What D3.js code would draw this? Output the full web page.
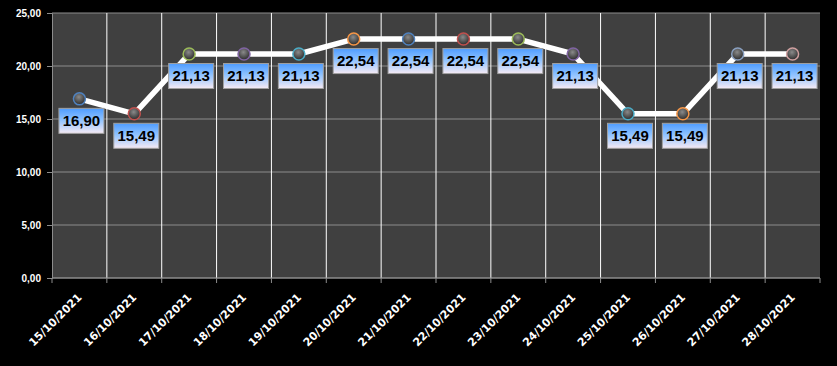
<html>
<head>
<meta charset="utf-8">
<script src="https://cdn.jsdelivr.net/npm/d3@7"></script>
<style>
  body { margin: 0; background: #000; }
</style>
</head>
<body>
<div id="chart"></div>
<script>
// chart data
const dates = ["15/10/2021", "16/10/2021", "17/10/2021", "18/10/2021", "19/10/2021", "20/10/2021", "21/10/2021",
               "22/10/2021", "23/10/2021", "24/10/2021", "25/10/2021", "26/10/2021", "27/10/2021", "28/10/2021"];
const prices = [16.90, 15.49, 21.13, 21.13, 21.13, 22.54, 22.54, 22.54, 22.54, 21.13, 15.49, 15.49, 21.13, 21.13];
const yTicks = [0, 5, 10, 15, 20, 25];
const markerColors = ["#4f81bd", "#c0504d", "#9bbb59", "#8064a2", "#4bacc6", "#f79646", "#4f81bd",
                      "#c0504d", "#9bbb59", "#8064a2", "#4bacc6", "#f79646", "#8aa0c0", "#d0a0a0"];

const W = 837, H = 366;
const m = { left: 52, right: 17, top: 13, bottom: 88 };
const fmt = v => d3.format(".2f")(v).replace(".", ",");

const svg = d3.select("#chart").append("svg")
  .attr("width", W).attr("height", H)
  .style("font-family", "'DejaVu Sans', Verdana, sans-serif");

svg.append("rect").attr("width", W).attr("height", H).attr("fill", "#000");

const x = d3.scaleBand().domain(dates).range([m.left, W - m.right]);
const y = d3.scaleLinear().domain([0, 25]).range([H - m.bottom, m.top]);

const defs = svg.append("defs");
const lg = defs.append("linearGradient").attr("id", "lblGrad").attr("x1", 0).attr("y1", 0).attr("x2", 0).attr("y2", 1);
lg.append("stop").attr("offset", "0%").attr("stop-color", "#4e9cff");
lg.append("stop").attr("offset", "45%").attr("stop-color", "#8ec2ff");
lg.append("stop").attr("offset", "100%").attr("stop-color", "#f6eaf4");
const rg = defs.append("radialGradient").attr("id", "dotGrad").attr("cx", "45%").attr("cy", "35%").attr("r", "65%");
rg.append("stop").attr("offset", "0%").attr("stop-color", "#8a8a8a");
rg.append("stop").attr("offset", "100%").attr("stop-color", "#2a2a2a");

// plot area
svg.append("rect")
  .attr("x", m.left).attr("y", m.top)
  .attr("width", W - m.right - m.left).attr("height", H - m.bottom - m.top)
  .attr("fill", "#404040");

// horizontal grid
svg.append("g").selectAll("line").data(yTicks).join("line")
  .attr("x1", m.left).attr("x2", W - m.right)
  .attr("y1", d => y(d)).attr("y2", d => y(d))
  .attr("stroke", "#8c8c8c").attr("stroke-width", 1);

// vertical grid (band boundaries)
const bounds = dates.map(d => x(d)).concat([W - m.right]);
svg.append("g").selectAll("line").data(bounds.slice(1, -1)).join("line")
  .attr("x1", d => d).attr("x2", d => d)
  .attr("y1", m.top).attr("y2", H - m.bottom)
  .attr("stroke", "#ffffff").attr("stroke-width", 1);

// y axis
const yAxis = svg.append("g")
  .attr("transform", `translate(${m.left},0)`)
  .call(d3.axisLeft(y).tickValues(yTicks).tickFormat(fmt).tickSizeOuter(0).tickSize(5).tickPadding(6));
yAxis.select(".domain").attr("stroke", "#8c8c8c");
yAxis.selectAll(".tick line").attr("stroke", "#8c8c8c");
yAxis.selectAll("text").attr("fill", "#ffffff").attr("font-size", 10).attr("font-weight", "bold");

// x axis ticks at band boundaries
const xg = svg.append("g");
xg.append("line").attr("x1", m.left).attr("x2", W - m.right)
  .attr("y1", y(0)).attr("y2", y(0)).attr("stroke", "#8c8c8c");
xg.selectAll(".xt").data(bounds).join("line")
  .attr("x1", d => d).attr("x2", d => d)
  .attr("y1", y(0)).attr("y2", y(0) + 5).attr("stroke", "#8c8c8c");
xg.selectAll("text").data(dates).join("text")
  .attr("transform", d => `translate(${x(d) + x.bandwidth() / 2 + 3},${y(0) + 20}) rotate(-45)`)
  .attr("text-anchor", "end")
  .attr("fill", "#ffffff").attr("font-size", 11).attr("font-weight", "bold")
  .text(d => d);

// line
const cx = (d, i) => x(dates[i]) + x.bandwidth() / 2;
svg.append("path")
  .datum(prices)
  .attr("d", d3.line().x(cx).y(d => y(d)))
  .attr("fill", "none").attr("stroke", "#ffffff").attr("stroke-width", 5.5)
  .attr("stroke-linejoin", "round");

// markers
svg.append("g").selectAll("circle").data(prices).join("circle")
  .attr("cx", cx).attr("cy", d => y(d)).attr("r", 6)
  .attr("fill", "url(#dotGrad)")
  .attr("stroke", (d, i) => markerColors[i]).attr("stroke-width", 1.5);

// value labels
const lbl = svg.append("g").selectAll("g").data(prices).join("g")
  .attr("transform", (d, i) => `translate(${cx(d, i) + 2},${y(d) + 22})`);
lbl.append("rect")
  .attr("x", -22.5).attr("y", -12.5).attr("width", 45).attr("height", 25)
  .attr("fill", "url(#lblGrad)").attr("stroke", "#a0a0a0").attr("stroke-width", 1);
lbl.append("text")
  .attr("text-anchor", "middle").attr("dy", "0.36em")
  .style("font-family", "'Liberation Sans', Arial, sans-serif")
  .attr("font-size", 15).attr("font-weight", "bold").attr("fill", "#000")
  .text(d => fmt(d));
</script>
</body>
</html>
